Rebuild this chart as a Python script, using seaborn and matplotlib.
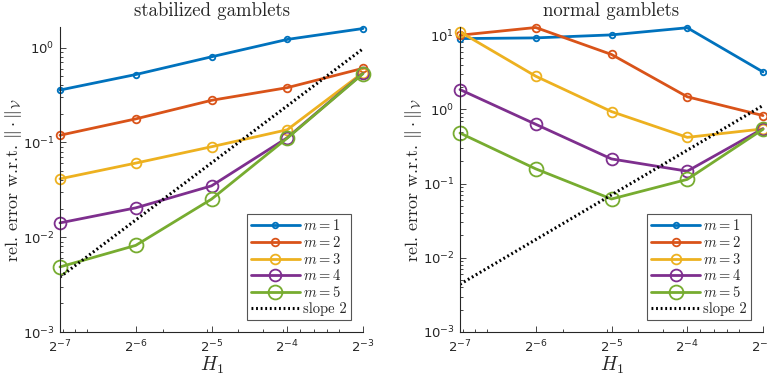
import numpy as np
import pandas as pd
import matplotlib
matplotlib.use("Agg")
import matplotlib.pyplot as plt
import matplotlib.ticker as mticker
import seaborn as sns

# ---------------- data ----------------
H = [2**-7, 2**-6, 2**-5, 2**-4, 2**-3]
xtick_labels = ["$2^{-7}$", "$2^{-6}$", "$2^{-5}$", "$2^{-4}$", "$2^{-3}$"]
series_names = ["$m = 1$", "$m = 2$", "$m = 3$", "$m = 4$", "$m = 5$"]

stab_m1 = [0.357, 0.52, 0.80, 1.22, 1.59]
stab_m2 = [0.119, 0.177, 0.278, 0.378, 0.605]
stab_m3 = [0.0413, 0.0605, 0.090, 0.136, 0.545]
stab_m4 = [0.01416, 0.0204, 0.0348, 0.112, 0.536]
stab_m5 = [0.00486, 0.0082, 0.0252, 0.111, 0.531]
stab_slope = [0.0038, 0.0152, 0.0608, 0.243, 0.973]

norm_m1 = [9.0, 9.2, 10.1, 12.6, 3.2]
norm_m2 = [10.0, 12.7, 5.5, 1.48, 0.826]
norm_m3 = [11.1, 2.8, 0.935, 0.42, 0.546]
norm_m4 = [1.85, 0.63, 0.215, 0.147, 0.55]
norm_m5 = [0.48, 0.158, 0.062, 0.114, 0.54]
norm_slope = [0.0044, 0.0176, 0.0704, 0.282, 1.13]

titles = ["stabilized gamblets", "normal gamblets"]
ylims = [(1e-3, 1.65), (1e-3, 12.9)]

# ---------------- style ----------------
colors = ["#0072BD", "#D95319", "#EDB120", "#7E2F8E", "#77AC30"]
msizes = [4, 5.5, 7, 8.5, 10]

sns.set_theme(style="ticks")
plt.rcParams["font.family"] = ["DejaVu Sans"]
plt.rcParams["mathtext.fontset"] = "cm"
plt.rcParams["axes.formatter.use_mathtext"] = True
tick_col = "#262626"

fig = plt.figure(figsize=(7.67, 3.75), dpi=100)
ax1 = fig.add_axes([60/767, 43/375, 303/767, 305/375])
ax2 = fig.add_axes([460/767, 43/375, 303/767, 305/375])

panels = [
    (ax1, [stab_m1, stab_m2, stab_m3, stab_m4, stab_m5], stab_slope),
    (ax2, [norm_m1, norm_m2, norm_m3, norm_m4, norm_m5], norm_slope),
]

for i, (ax, ser, slope) in enumerate(panels):
    for j, vals in enumerate(ser):
        df = pd.DataFrame({"H": H, "err": vals})
        sns.lineplot(data=df, x="H", y="err", ax=ax, color=colors[j],
                     marker="o", markersize=msizes[j], markerfacecolor="none",
                     markeredgecolor=colors[j], markeredgewidth=1.3,
                     linewidth=2, label=series_names[j], clip_on=False)
    dfs = pd.DataFrame({"H": H, "err": slope})
    sns.lineplot(data=dfs, x="H", y="err", ax=ax, color="black",
                 linewidth=2.2, dashes=False, label="slope 2")
    ax.lines[-1].set_linestyle((0, (0.6, 0.9)))

    ax.set_xscale("log", base=2)
    ax.set_yscale("log")
    ax.set_xlim(H[0], H[-1])
    ax.set_ylim(*ylims[i])
    ax.set_xticks(H)
    ax.set_xticklabels(xtick_labels)
    ax.xaxis.set_minor_locator(mticker.LogLocator(base=10, subs=np.arange(1, 10), numticks=20))
    ax.xaxis.set_minor_formatter(mticker.NullFormatter())
    ax.yaxis.set_major_locator(mticker.LogLocator(base=10, numticks=10))
    ax.yaxis.set_minor_locator(mticker.LogLocator(base=10, subs=np.arange(2, 10), numticks=20))
    ax.yaxis.set_minor_formatter(mticker.NullFormatter())
    ax.tick_params(which="both", direction="in", colors=tick_col, labelsize=9.5,
                   width=0.6)
    ax.tick_params(which="major", length=4)
    ax.tick_params(which="minor", length=2.2)
    for lab in ax.get_xticklabels() + ax.get_yticklabels():
        lab.set_math_fontfamily("dejavusans")
    ax.tick_params(axis="x", pad=5)
    ax.tick_params(axis="y", pad=4)
    for s in ["top", "right"]:
        ax.spines[s].set_visible(False)
    for s in ["left", "bottom"]:
        ax.spines[s].set_color(tick_col)
        ax.spines[s].set_linewidth(0.8)

    ax.set_title(titles[i], family="cmr10", fontsize=13.5, color=tick_col, pad=8)
    ax.set_xlabel("$H_1$", fontsize=14, color=tick_col)
    ax.xaxis.set_label_coords(0.5, -0.075)
    ax.xaxis.label.set_va("top")
    ax.set_ylabel(r"rel. error w.r.t. $\|\cdot\|_{\mathcal{V}}$", family="cmr10",
                  fontsize=13, color=tick_col)
    ax.yaxis.set_label_coords(-0.118, 0.5)

    leg = ax.legend(loc="lower right", frameon=True, fancybox=False,
                    framealpha=1, edgecolor="#555555", handlelength=3.3,
                    handletextpad=0.25, borderpad=0.3, labelspacing=0.12,
                    borderaxespad=0.8, prop={"family": "cmr10", "size": 10.5})
    leg.get_frame().set_linewidth(0.8)

fig.savefig("out.png", dpi=100)
